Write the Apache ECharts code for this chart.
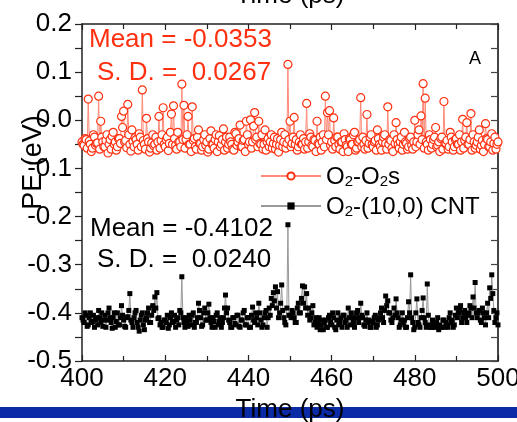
<!DOCTYPE html>
<html>
<head>
<meta charset="utf-8">
<script src="https://cdn.jsdelivr.net/npm/echarts@6/dist/echarts.min.js"></script>
<style>
html,body{margin:0;padding:0;background:#fff;}
#chart{width:517px;height:422px;}
</style>
</head>
<body>
<div id="chart"></div>
<script>
// Sampling grid (ps)
var startTime = 400;
var timeStep = 0.25;

// O2-O2s potential energy (eV)
var o2o2s = [
-0.045,-0.05,-0.052,-0.038,-0.04,-0.058,0.044,-0.043,-0.05,-0.065,
-0.058,-0.03,-0.035,-0.052,-0.048,-0.047,0.05,-0.06,-0.002,-0.035,
-0.045,-0.055,-0.055,-0.042,-0.03,-0.068,-0.05,-0.04,-0.06,-0.033,
-0.025,-0.05,-0.045,-0.062,-0.055,-0.038,-0.038,-0.048,0.008,-0.015,
0.019,-0.045,-0.042,-0.057,0.033,-0.03,-0.05,-0.064,-0.02,-0.044,
-0.055,-0.036,-0.04,-0.05,-0.062,-0.028,-0.035,-0.055,0.063,-0.042,
-0.05,-0.06,0.004,-0.038,-0.045,-0.066,-0.058,-0.047,-0.03,-0.053,
-0.05,-0.035,-0.062,-0.045,0.008,-0.058,-0.042,-0.03,0.026,-0.05,
-0.055,-0.04,-0.035,-0.063,-0.048,-0.025,0.013,-0.05,0.03,-0.038,
-0.052,-0.06,-0.025,-0.045,-0.045,-0.055,0.075,-0.04,0.031,-0.058,
-0.04,-0.03,0.008,-0.05,-0.05,-0.065,0.028,-0.042,-0.038,-0.055,
-0.06,-0.035,-0.02,-0.048,-0.048,-0.062,-0.055,-0.04,-0.03,-0.052,
-0.045,-0.066,-0.06,-0.038,-0.022,-0.05,-0.05,-0.058,-0.04,-0.03,
-0.065,-0.045,-0.032,-0.055,-0.05,-0.04,-0.018,-0.062,-0.045,-0.035,
-0.058,-0.05,-0.035,-0.045,-0.05,-0.06,-0.062,-0.025,-0.028,-0.052,
-0.045,-0.038,-0.01,-0.055,-0.055,-0.042,-0.04,-0.065,-0.002,-0.03,
-0.05,-0.045,0.001,-0.058,-0.045,-0.012,0.016,-0.04,-0.035,-0.055,
-0.002,-0.048,-0.05,-0.03,-0.06,-0.05,-0.02,-0.062,-0.045,-0.038,
-0.055,-0.045,-0.03,-0.058,-0.048,-0.035,-0.06,-0.05,-0.038,-0.066,
-0.052,-0.04,-0.025,-0.055,-0.045,-0.03,-0.058,-0.048,0.116,-0.04,
-0.002,-0.055,-0.048,-0.035,0.006,-0.05,-0.04,-0.062,-0.055,-0.045,
-0.03,-0.05,-0.05,-0.038,-0.06,-0.045,0.035,-0.058,-0.045,-0.028,
-0.035,-0.052,-0.055,-0.04,-0.042,-0.065,-0.002,-0.048,-0.05,-0.035,
-0.062,-0.045,-0.03,-0.055,0.05,-0.04,0.016,-0.03,0.02,-0.052,
-0.045,-0.06,0.005,-0.042,-0.055,-0.035,-0.035,-0.05,-0.06,-0.045,
-0.045,-0.065,-0.028,-0.04,-0.052,-0.055,-0.065,-0.038,-0.04,-0.05,
-0.05,-0.03,-0.025,-0.062,-0.058,-0.045,-0.045,-0.04,0.047,-0.055,
-0.035,-0.05,-0.06,-0.042,0.012,-0.058,-0.048,-0.035,-0.03,-0.05,
-0.055,-0.045,-0.042,-0.062,-0.02,-0.038,-0.05,-0.055,-0.062,-0.045,
-0.035,-0.03,-0.048,-0.06,0.028,-0.05,-0.04,-0.042,-0.058,-0.065,
-0.03,-0.048,-0.005,-0.04,-0.05,-0.058,-0.045,-0.035,-0.062,-0.05,
-0.025,-0.045,-0.048,-0.06,-0.055,-0.038,-0.035,-0.052,-0.06,-0.045,
0,-0.055,-0.045,-0.03,-0.02,-0.05,0.009,-0.04,0.076,-0.058,
0.046,-0.045,-0.05,-0.062,-0.03,-0.04,-0.058,-0.05,-0.04,-0.035,
-0.015,-0.055,-0.052,-0.045,-0.065,-0.038,-0.035,-0.06,0.039,-0.048,
-0.048,-0.042,-0.06,-0.055,-0.025,-0.035,-0.045,-0.062,-0.055,-0.04,
-0.038,-0.05,-0.05,-0.03,-0.062,-0.045,0.002,-0.058,-0.042,-0.035,
-0.005,-0.05,-0.05,-0.04,0.014,-0.062,-0.03,-0.045,-0.058,-0.052,
-0.045,-0.035,-0.02,-0.06,-0.052,-0.042,-0.065,-0.05,-0.007,-0.038,
-0.04,-0.055,-0.055,-0.045,-0.028,-0.062,-0.048,-0.035,-0.06,-0.05,
-0.045
];

// O2-(10,0) CNT potential energy (eV)
var o2cnt = [
-0.41,-0.415,-0.42,-0.4,-0.405,-0.428,-0.425,-0.41,-0.4,-0.42,
-0.418,-0.405,-0.43,-0.415,-0.41,-0.425,-0.395,-0.41,-0.42,-0.4,
-0.428,-0.415,-0.405,-0.43,-0.415,-0.4,-0.39,-0.41,-0.42,-0.432,
-0.41,-0.4,-0.43,-0.418,-0.4,-0.425,-0.425,-0.41,-0.385,-0.405,
-0.415,-0.428,-0.43,-0.41,-0.408,-0.395,-0.36,-0.415,-0.42,-0.43,
-0.41,-0.4,-0.395,-0.42,-0.43,-0.438,-0.415,-0.405,-0.4,-0.425,
-0.435,-0.415,-0.41,-0.4,-0.39,-0.42,-0.42,-0.405,-0.385,-0.395,
-0.367,-0.39,-0.358,-0.412,-0.41,-0.425,-0.42,-0.43,-0.43,-0.415,
-0.415,-0.42,-0.405,-0.432,-0.425,-0.41,-0.4,-0.42,-0.418,-0.405,
-0.43,-0.415,-0.41,-0.425,-0.395,-0.4,-0.325,-0.41,-0.42,-0.43,
-0.41,-0.418,-0.428,-0.405,-0.415,-0.425,-0.405,-0.4,-0.43,-0.42,
-0.42,-0.41,-0.38,-0.395,-0.41,-0.428,-0.425,-0.4,-0.39,-0.415,
-0.415,-0.4,-0.382,-0.41,-0.42,-0.43,-0.41,-0.418,-0.43,-0.405,
-0.4,-0.425,-0.418,-0.41,-0.43,-0.42,-0.41,-0.39,-0.363,-0.4,
-0.39,-0.415,-0.42,-0.43,-0.43,-0.41,-0.41,-0.422,-0.425,-0.405,
-0.405,-0.428,-0.43,-0.415,-0.415,-0.4,-0.395,-0.425,-0.425,-0.41,
-0.41,-0.43,-0.43,-0.405,-0.388,-0.415,-0.42,-0.4,-0.41,-0.425,
-0.38,-0.4,-0.415,-0.43,-0.425,-0.41,-0.4,-0.395,-0.43,-0.41,
-0.39,-0.405,-0.37,-0.385,-0.358,-0.375,-0.346,-0.39,-0.356,-0.41,
-0.4,-0.38,-0.342,-0.395,-0.41,-0.42,-0.425,-0.39,-0.217,-0.405,
-0.405,-0.41,-0.395,-0.4,-0.41,-0.42,-0.42,-0.39,-0.38,-0.4,
-0.4,-0.37,-0.344,-0.38,-0.346,-0.39,-0.36,-0.405,-0.39,-0.415,
-0.41,-0.4,-0.385,-0.425,-0.42,-0.41,-0.43,-0.42,-0.41,-0.435,
-0.425,-0.415,-0.435,-0.42,-0.415,-0.43,-0.43,-0.41,-0.405,-0.42,
-0.425,-0.4,-0.41,-0.43,-0.435,-0.415,-0.4,-0.425,-0.42,-0.41,
-0.43,-0.405,-0.405,-0.42,-0.415,-0.43,-0.39,-0.41,-0.425,-0.4,
-0.41,-0.42,-0.43,-0.41,-0.4,-0.395,-0.42,-0.41,-0.38,-0.405,
-0.41,-0.425,-0.428,-0.415,-0.4,-0.42,-0.415,-0.43,-0.43,-0.418,
-0.42,-0.41,-0.405,-0.43,-0.425,-0.415,-0.41,-0.4,-0.39,-0.41,
-0.42,-0.395,-0.365,-0.385,-0.375,-0.4,-0.4,-0.415,-0.42,-0.41,
-0.39,-0.405,-0.371,-0.4,-0.41,-0.43,-0.425,-0.415,-0.4,-0.42,
-0.415,-0.43,-0.43,-0.41,-0.377,-0.4,-0.321,-0.41,-0.42,-0.435,
-0.43,-0.4,-0.371,-0.42,-0.425,-0.43,-0.41,-0.395,-0.369,-0.41,
-0.42,-0.43,-0.34,-0.405,-0.425,-0.43,-0.43,-0.415,-0.42,-0.43,
-0.43,-0.42,-0.41,-0.435,-0.425,-0.43,-0.43,-0.415,-0.415,-0.43,
-0.42,-0.425,-0.43,-0.41,-0.4,-0.42,-0.415,-0.43,-0.425,-0.405,
-0.39,-0.41,-0.4,-0.395,-0.385,-0.42,-0.41,-0.4,-0.395,-0.41,
-0.42,-0.405,-0.4,-0.385,-0.39,-0.41,-0.367,-0.39,-0.337,-0.4,
-0.41,-0.4,-0.395,-0.415,-0.42,-0.39,-0.4,-0.41,-0.425,-0.4,
-0.38,-0.41,-0.348,-0.37,-0.321,-0.36,-0.395,-0.42,-0.41,-0.4,
-0.425
];

var seriesNames = ['O2-O2s', 'O2-(10,0) CNT'];
var xTicks = [400, 420, 440, 460, 480, 500];
var yTicks = [-0.5, -0.4, -0.3, -0.2, -0.1, 0.0, 0.1, 0.2];

function pairs(vals) {
  var out = [];
  for (var i = 0; i < vals.length; i++) out.push([startTime + i * timeStep, vals[i]]);
  return out;
}

var RED = '#ff3010';
var FONT = '"Liberation Sans", Arial, sans-serif';

var chart = echarts.init(document.getElementById('chart'), null, {renderer: 'canvas'});

var richLegend = {
  a: {fontSize: 24, fontFamily: FONT, color: '#000', lineHeight: 26, verticalAlign: 'bottom'},
  s: {fontSize: 15, fontFamily: FONT, color: '#000', lineHeight: 26, verticalAlign: 'bottom'}
};

chart.setOption({
  animation: false,
  backgroundColor: '#fff',
  grid: {left: 82, right: 19, top: 24, bottom: 61, containLabel: false, outerBoundsMode: 'none'},
  legend: {
    orient: 'vertical',
    left: 255,
    top: 160,
    itemGap: 6,
    itemWidth: 60,
    itemHeight: 9,
    data: seriesNames,
    formatter: function (name) {
      if (name === seriesNames[0]) return '{a|O}{s|2}{a|-O}{s|2}{a|s}';
      return '{a|O}{s|2}{a|-(10,0) CNT}';
    },
    textStyle: {fontSize: 24, fontFamily: FONT, color: '#000', rich: richLegend}
  },
  xAxis: [{
    type: 'value', position: 'bottom', min: xTicks[0], max: xTicks[xTicks.length - 1], interval: 20,
    name: 'Time (ps)', nameLocation: 'middle', nameGap: 36, nameMoveOverlap: false,
    nameTextStyle: {fontSize: 26, fontFamily: FONT, color: '#000'},
    axisLine: {show: true, onZero: false, lineStyle: {color: '#222', width: 1.5}},
    axisTick: {show: true, inside: true, length: 6, lineStyle: {color: '#222', width: 1.2}},
    minorTick: {show: true, splitNumber: 2, length: 5, lineStyle: {color: '#222', width: 1.2}},
    axisLabel: {fontSize: 26, fontFamily: FONT, color: '#000', margin: 5},
    splitLine: {show: false}
  }, {
    type: 'value', position: 'top', min: xTicks[0], max: xTicks[xTicks.length - 1], interval: 20,
    name: 'Time (ps)', nameLocation: 'middle', nameGap: 15, nameMoveOverlap: false,
    nameTextStyle: {fontSize: 26, fontFamily: FONT, color: '#000'},
    axisLine: {show: true, onZero: false, lineStyle: {color: '#222', width: 1.5}},
    axisTick: {show: true, inside: true, length: 6, lineStyle: {color: '#222', width: 1.2}},
    minorTick: {show: true, splitNumber: 2, length: 5, lineStyle: {color: '#222', width: 1.2}},
    axisLabel: {show: false},
    splitLine: {show: false}
  }],
  yAxis: [{
    type: 'value', position: 'left', min: yTicks[0], max: yTicks[yTicks.length - 1], interval: 0.1,
    name: 'PE (eV)', nameLocation: 'middle', nameGap: 35, nameMoveOverlap: false,
    nameTextStyle: {fontSize: 27, fontFamily: FONT, color: '#000', padding: [0, 0, 0, 60]},
    axisLine: {show: true, onZero: false, lineStyle: {color: '#222', width: 1.5}},
    axisTick: {show: true, inside: false, length: 7, lineStyle: {color: '#222', width: 1.2}},
    minorTick: {show: true, splitNumber: 2, length: 7, lineStyle: {color: '#222', width: 1.2}},
    axisLabel: {fontSize: 26, fontFamily: FONT, color: '#000', margin: 10,
      formatter: function (v) { return v.toFixed(1); }},
    splitLine: {show: false}
  }, {
    type: 'value', position: 'right', min: yTicks[0], max: yTicks[yTicks.length - 1], interval: 0.1,
    axisLine: {show: true, onZero: false, lineStyle: {color: '#444', width: 2}},
    axisTick: {show: true, inside: true, length: 7, lineStyle: {color: '#444', width: 1.2}},
    minorTick: {show: true, splitNumber: 2, length: 7, lineStyle: {color: '#444', width: 1.2}},
    axisLabel: {show: false},
    splitLine: {show: false}
  }],
  series: [{
    name: seriesNames[0], type: 'line', data: pairs(o2o2s),
    symbol: 'circle', symbolSize: 8, showSymbol: true, showAllSymbol: true,
    itemStyle: {color: '#fff', borderColor: RED, borderWidth: 1.2},
    lineStyle: {color: '#ff8a78', width: 1},
    z: 3
  }, {
    name: seriesNames[1], type: 'line', data: pairs(o2cnt),
    symbol: 'rect', symbolSize: 5, showSymbol: true, showAllSymbol: true,
    itemStyle: {color: '#000'},
    lineStyle: {color: '#999', width: 1},
    z: 2
  }],
  graphic: [
    {type: 'rect', left: 0, top: 407, z: -100, shape: {width: 517, height: 11}, style: {fill: '#0a2aa6'}},
    {type: 'text', x: 89, y: 40, z: 100, style: {text: 'Mean = -0.0353', fill: RED, font: '26px ' + FONT, textVerticalAlign: 'middle'}},
    {type: 'text', x: 97, y: 73, z: 100, style: {text: 'S. D. =  0.0267', fill: RED, font: '26px ' + FONT, textVerticalAlign: 'middle'}},
    {type: 'text', x: 469, y: 59, z: 100, style: {text: 'A', fill: '#000', font: '18px ' + FONT, textVerticalAlign: 'middle'}},
    {type: 'text', x: 90, y: 229, z: 100, style: {text: 'Mean = -0.4102', fill: '#000', font: '26px ' + FONT, textVerticalAlign: 'middle'}},
    {type: 'text', x: 97, y: 260, z: 100, style: {text: 'S. D. =  0.0240', fill: '#000', font: '26px ' + FONT, textVerticalAlign: 'middle'}}
  ]
});
</script>
</body>
</html>
